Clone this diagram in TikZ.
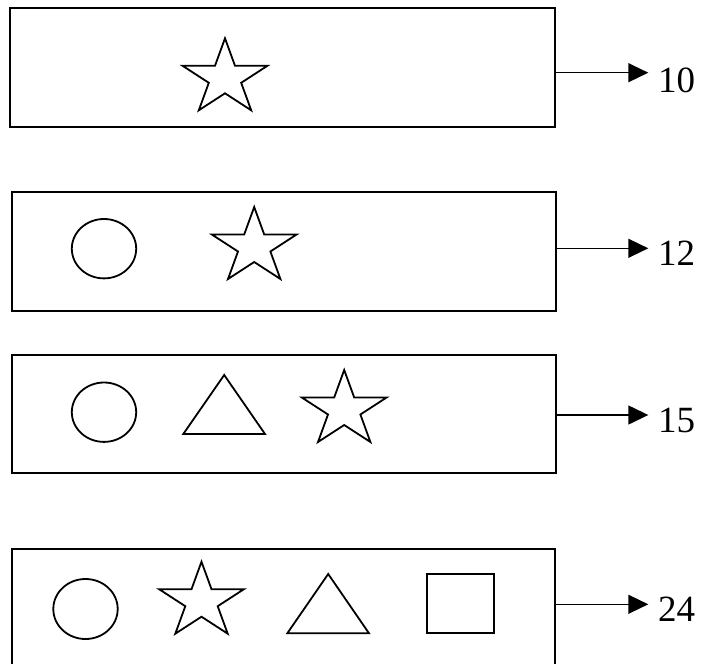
\documentclass[tikz,border=0pt]{standalone}
\usepackage{fontspec}
\setmainfont{Liberation Serif}
\usetikzlibrary{arrows.meta}
\begin{document}
\begin{tikzpicture}[x=1pt,y=-1pt,
  panel/.style={draw, line width=1.8pt, inner sep=0pt, outer sep=0pt},
  outline/.style={line width=1.8pt},
  conn/.style={line width=1.4pt, -{Triangle[length=20pt,width=19pt]}},
  val/.style={anchor=west, inner sep=0pt, font=\fontsize{37}{40}\selectfont},
  pics/fivestar/.style={code={\draw[outline, xscale=1.12] (-90:39.8) -- (-54:15.2) -- (-18:39.8) -- (18:15.2) -- (54:39.8) -- (90:15.2) -- (126:39.8) -- (162:15.2) -- (198:39.8) -- (234:15.2) -- cycle;}}
]
\useasboundingbox (0,0) rectangle (702,664);

% panels
\node[panel, minimum width=545pt, minimum height=118.4pt] (b1) at (282.5,67.5) {};
\node[panel, minimum width=544pt, minimum height=118.7pt] (b2) at (284,251.35) {};
\node[panel, minimum width=544pt, minimum height=118pt] (b3) at (284,414) {};
\node[panel, minimum width=543pt, minimum height=119pt] (b4) at (283.5,608.5) {};

% arrow ends
\coordinate (e1) at (648.3,72.7);
\coordinate (e2) at (648.3,248.3);
\coordinate (e3) at (648.3,415);
\coordinate (e4) at (648.3,604.3);

\draw[conn] (b1.east |- e1) -- (e1);
\draw[conn] (b2.east |- e2) -- (e2);
\draw[conn] (b3.east |- e3) -- (e3);
\draw[conn] (b4.east |- e4) -- (e4);

\node[val] (v1) at (658,80.5) {10};
\node[val] (v2) at (658,253) {12};
\node[val] (v3) at (658,420) {15};
\node[val] (v4) at (658,609.7) {24};

% panel 1
\pic at (225,78.1) {fivestar};

% panel 2
\draw[outline] (104,248.7) ellipse [x radius=32.2, y radius=29.7];
\pic at (254.2,246.8) {fivestar};

% panel 3
\draw[outline] (104,412.2) ellipse [x radius=32.2, y radius=29.7];
\draw[outline] (183.3,434) -- (224.2,375) -- (265,434) -- cycle;
\pic at (344.2,409.8) {fivestar};

% panel 4
\draw[outline] (85.5,609) ellipse [x radius=32.2, y radius=30];
\pic at (201.5,601.5) {fivestar};
\draw[outline] (287.3,633.3) -- (328.2,574) -- (369,633.3) -- cycle;
\draw[outline] (426.7,574) rectangle (494.3,633.3);
\end{tikzpicture}
\end{document}
